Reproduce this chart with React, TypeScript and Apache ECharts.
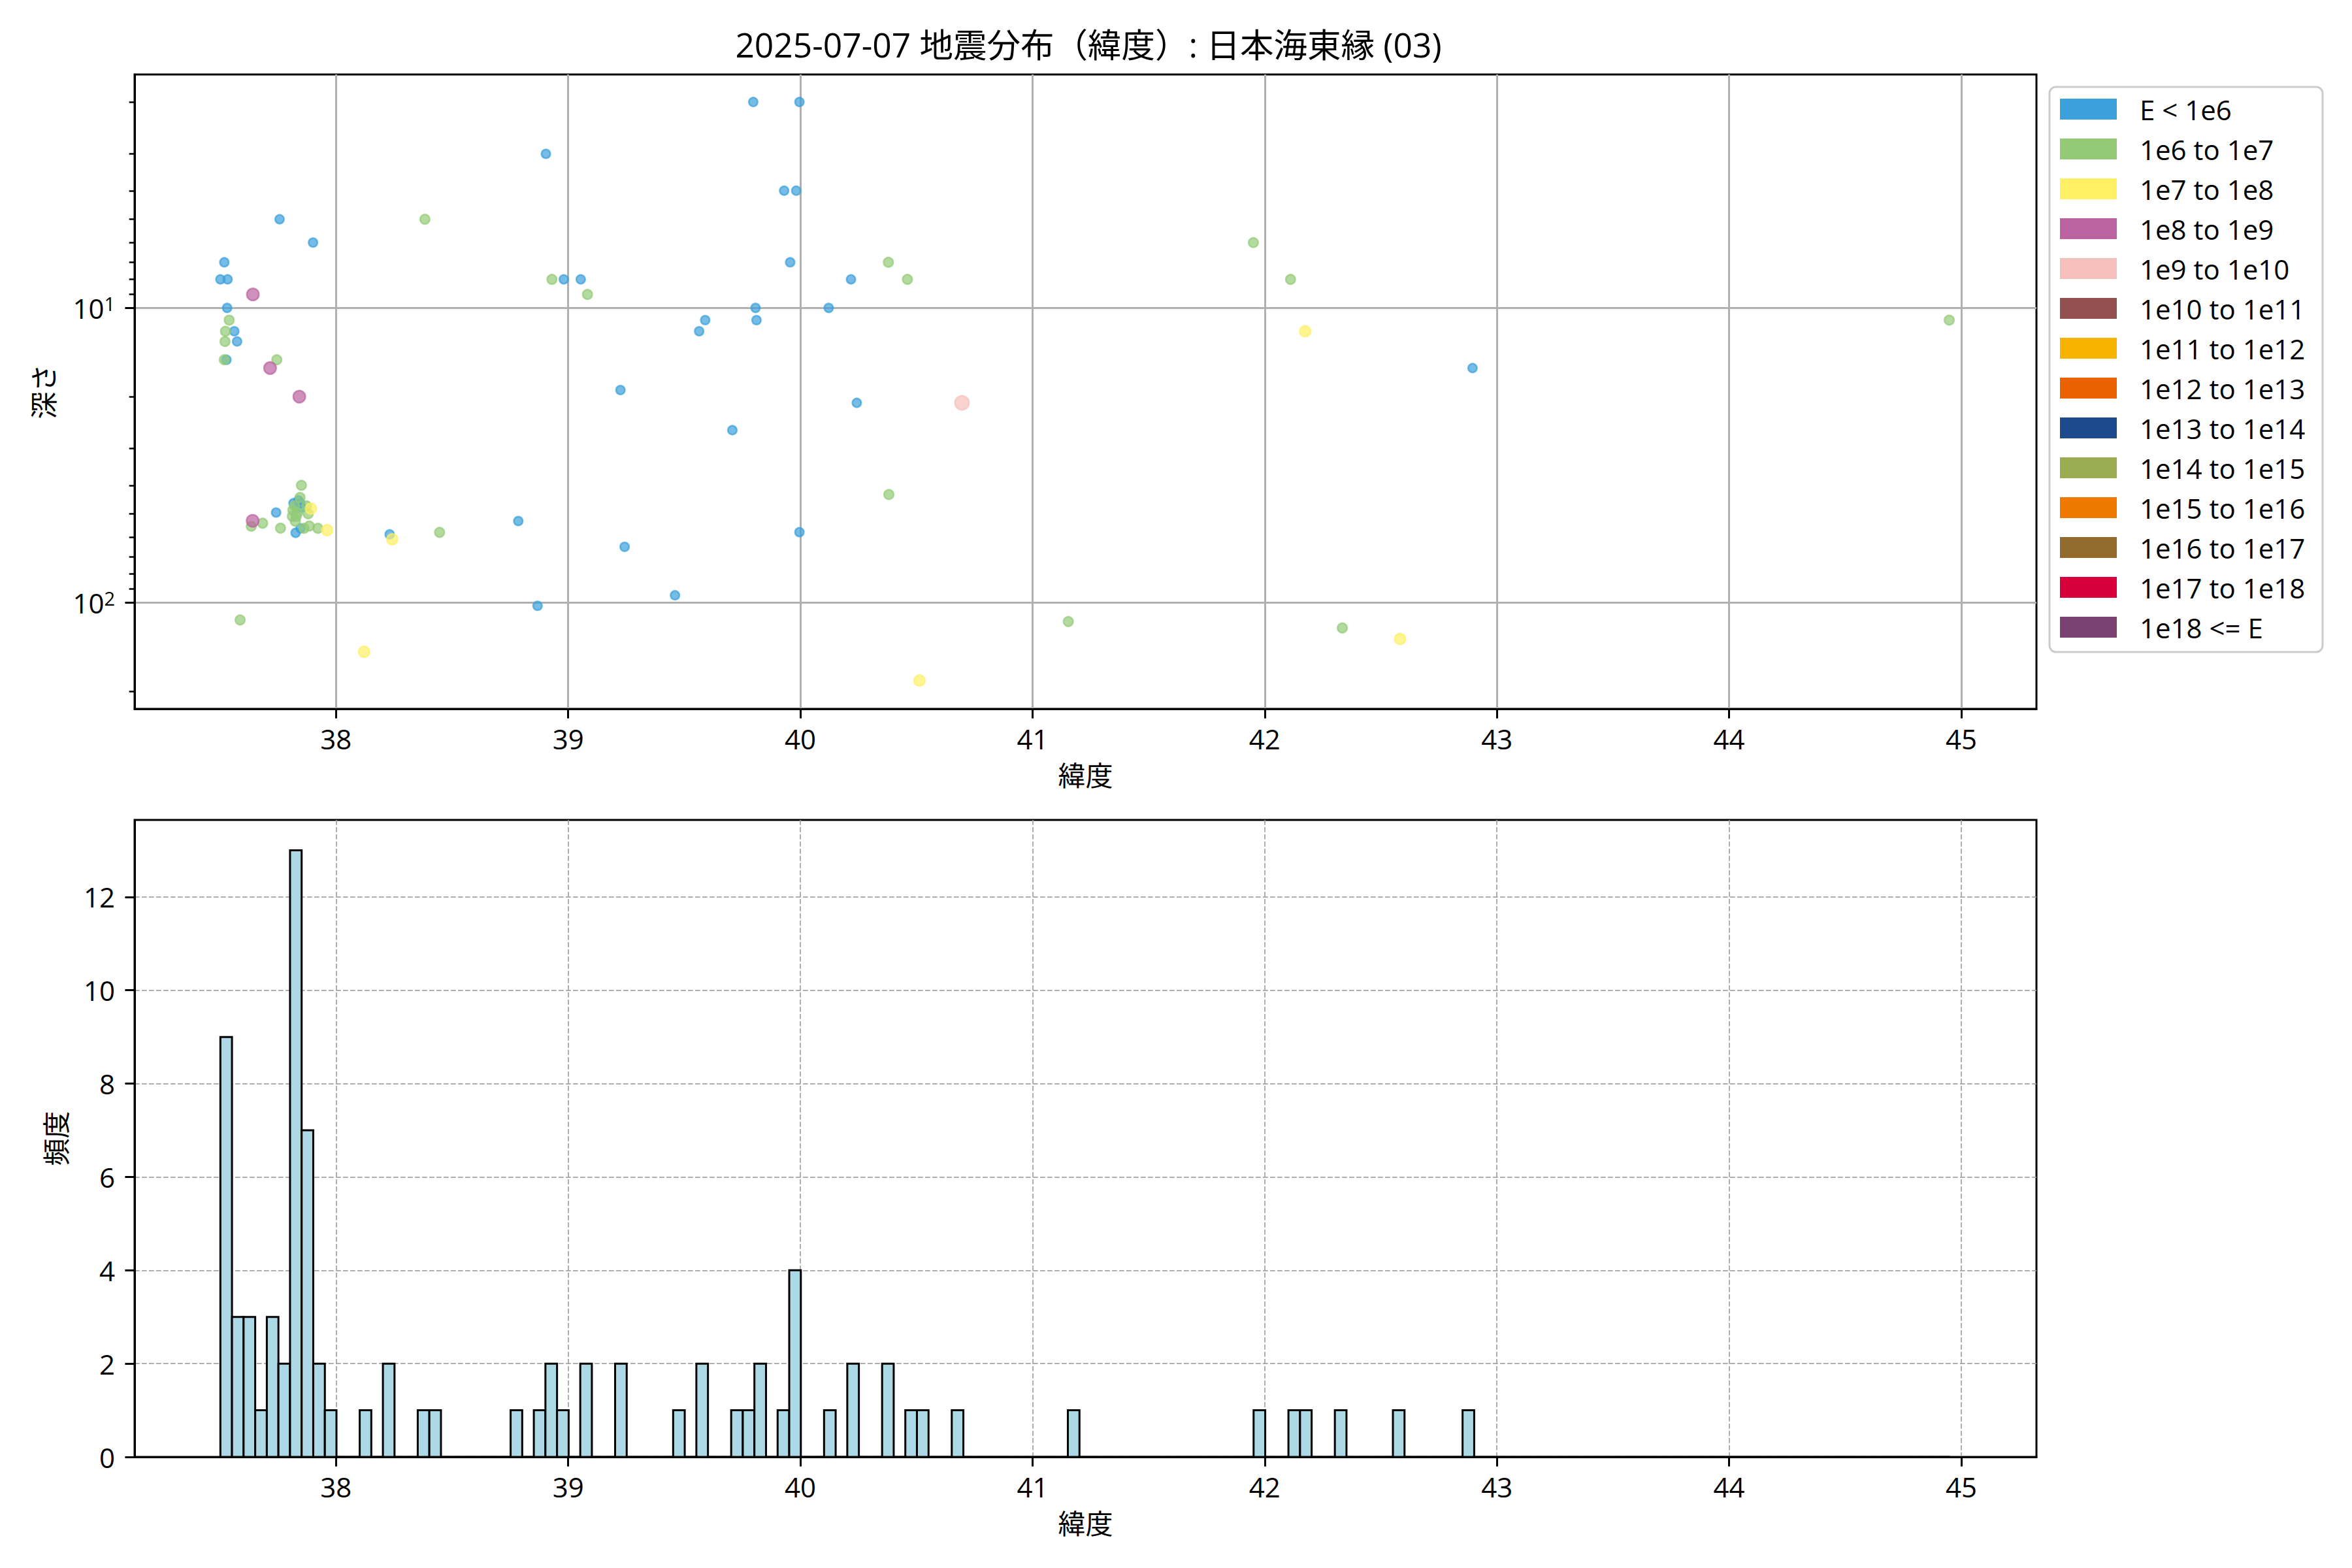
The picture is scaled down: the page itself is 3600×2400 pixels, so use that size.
import React, { useEffect, useRef } from 'react';
import * as echarts from 'echarts';

const FONT = '"Open Sans", "Noto Sans CJK JP", sans-serif';
const TITLE = '2025-07-07 地震分布（緯度）: 日本海東縁 (03)';

const energyClasses = [
  'E < 1e6', '1e6 to 1e7', '1e7 to 1e8', '1e8 to 1e9', '1e9 to 1e10', '1e10 to 1e11',
  '1e11 to 1e12', '1e12 to 1e13', '1e13 to 1e14', '1e14 to 1e15', '1e15 to 1e16',
  '1e16 to 1e17', '1e17 to 1e18', '1e18 <= E',
];
const classColors = [
  '#3ba0db', '#93ca76', '#fff064', '#bb62a0', '#f5c0bc', '#94504e', '#f6b400',
  '#ea6100', '#1d498d', '#9bac50', '#ef7800', '#936b2c', '#d7003a', '#7a4070',
];
const classSizes = [13.5, 14.5, 16.5, 18.5, 21.5, 23, 25, 27, 29, 31, 33, 35, 37, 39];

// E < 1e6
const latE6 = [39.797, 39.996, 38.904, 39.930, 39.982, 37.757, 37.901, 37.519, 39.956, 37.502,
  37.533, 38.981, 39.054, 40.218, 37.531, 39.807, 40.122, 39.811, 39.590, 37.562,
  39.564, 37.574, 37.528, 42.895, 39.225, 40.243, 39.707, 37.742, 37.817, 37.826,
  37.846, 37.838, 37.847, 37.852, 38.231, 38.785, 39.996, 39.243, 39.460, 38.868];
const depthE6 = [2.0, 2.0, 3.0, 4.0, 4.0, 5.0, 6.0, 7.0, 7.0, 8.0,
  8.0, 8.0, 8.0, 8.0, 10.0, 10.0, 10.0, 11.0, 11.0, 12.0,
  12.0, 13.0, 15.0, 16.0, 19.0, 21.0, 26.0, 49.5, 46, 58,
  46, 45, 56, 47.6, 58.7, 52.9, 57.7, 64.7, 94.5, 102.6];
// 1e6 to 1e7
const latE7 = [38.383, 38.930, 39.083, 37.540, 37.524, 37.522, 37.519, 37.745, 41.951, 42.111,
  40.379, 40.461, 44.948, 40.381, 41.154, 42.334, 37.587, 37.635, 37.684, 37.761,
  37.851, 37.873, 37.880, 37.814, 37.812, 37.829, 37.845, 37.822, 37.835, 37.825,
  37.862, 37.885, 37.922, 38.446];
const depthE7 = [5.0, 8.0, 9.0, 11.0, 12.0, 13.0, 15.0, 15.0, 6.0, 8.0,
  7.0, 8.0, 11.0, 43.0, 116, 122, 114.6, 55.1, 53.8, 55.9,
  40, 47, 50, 48.6, 51, 51, 44, 47, 49.5, 53,
  56, 55, 56, 57.8];
// 1e7 to 1e8
const latE8 = [42.174, 37.892, 37.962, 38.242, 38.121, 42.583, 40.513];
const depthE8 = [12.0, 48, 56.8, 61.0, 147, 133, 184];
// 1e8 to 1e9
const latE9 = [37.642, 37.716, 37.842, 37.641];
const depthE9 = [9.0, 16.0, 20.0, 52.8];
// 1e9 to 1e10
const latE10 = [40.696];
const depthE10 = [21.0];

const classLats = [latE6, latE7, latE8, latE9, latE10, [], [], [], [], [], [], [], [], []];
const classDepths = [depthE6, depthE7, depthE8, depthE9, depthE10, [], [], [], [], [], [], [], [], []];

// histogram of latitude (bins of 0.05 deg)
const histStart = 37.502;
const histBinWidth = 0.05;
const histCounts = [
  9, 3, 3, 1, 3, 2, 13, 7, 2, 1,
  0, 0, 1, 0, 2, 0, 0, 1, 1, 0,
  0, 0, 0, 0, 0, 1, 0, 1, 2, 1,
  0, 2, 0, 0, 2, 0, 0, 0, 0, 1,
  0, 2, 0, 0, 1, 1, 2, 0, 1, 4,
  0, 0, 1, 0, 2, 0, 0, 2, 0, 1,
  1, 0, 0, 1, 0, 0, 0, 0, 0, 0,
  0, 0, 0, 1, 0, 0, 0, 0, 0, 0,
  0, 0, 0, 0, 0, 0, 0, 0, 0, 1,
  0, 0, 1, 1, 0, 0, 1, 0, 0, 0,
  0, 1, 0, 0, 0, 0, 0, 1, 0, 0,
  0, 0, 0, 0, 0, 0, 0, 0, 0, 0,
  0, 0, 0, 0, 0, 0, 0, 0, 0, 0,
  0, 0, 0, 0, 0, 0, 0, 0, 0, 0,
  0, 0, 0, 0, 0, 0, 0, 0, 0,
];

const latTicks = [38, 39, 40, 41, 42, 43, 44, 45];
const depthMajorTicks = [10, 100];
const depthMinorTicks = [2, 3, 4, 5, 6, 7, 8, 9, 20, 30, 40, 50, 60, 70, 80, 90, 200];
const countTicks = [0, 2, 4, 6, 8, 10, 12];

const LAT_MIN = 37.1325;
const LAT_MAX = 45.3236;
const DEPTH_MIN = 1.613;
const DEPTH_MAX = 229.6;
const COUNT_MAX = 13.65;

const labelStyle = { fontSize: 42, color: '#000', fontFamily: FONT };
const nameStyle = { fontSize: 42, color: '#000', fontFamily: FONT };

function makeXAxis(gridIndex: number, dashed: boolean) {
  return {
    type: 'value', gridIndex, min: LAT_MIN, max: LAT_MAX, splitNumber: 8,
    name: '緯度', nameLocation: 'middle', nameGap: 80, nameTextStyle: nameStyle,
    axisLine: { show: true, onZero: false, lineStyle: { color: '#000', width: 3 } },
    axisTick: { show: true, customValues: latTicks, length: 14.6, lineStyle: { color: '#000', width: 3 } },
    axisLabel: { customValues: latTicks, margin: 24, ...labelStyle },
    splitLine: {
      show: true,
      lineStyle: dashed
        ? { color: 'rgba(160,160,160,0.85)', width: 2, type: [7.7, 3.3] }
        : { color: '#b0b0b0', width: 3, type: 'solid' },
    },
  };
}

export default function App() {
  const ref = useRef<HTMLDivElement>(null);
  useEffect(() => {
    document.body.style.margin = '0';
    if (!ref.current) return;
    const chart = echarts.init(ref.current, undefined, { renderer: 'svg' });

    const scatterSeries = energyClasses.map((name, i) => ({
      type: 'scatter', name, xAxisIndex: 0, yAxisIndex: 0,
      data: classLats[i].map((lat, j) => [lat, classDepths[i][j]]),
      symbolSize: classSizes[i],
      itemStyle: { color: classColors[i], opacity: 0.7, borderColor: classColors[i], borderWidth: 2.5 },
      emphasis: { disabled: true },
    }));

    const histData = histCounts.map((c, i) => [
      histStart + i * histBinWidth, histStart + (i + 1) * histBinWidth, c,
    ]);

    const option: any = {
      animation: false,
      backgroundColor: '#fff',
      textStyle: { fontFamily: FONT },
      title: {
        text: TITLE, left: 1661, top: 37, textAlign: 'center',
        textStyle: { fontSize: 51.5, fontWeight: 'normal', color: '#000', fontFamily: FONT },
      },
      legend: {
        orient: 'vertical', left: 3137, top: 133, icon: 'rect',
        itemWidth: 87, itemHeight: 32, itemGap: 19,
        padding: [13, 18, 17, 16],
        borderColor: '#cccccc', borderWidth: 3, borderRadius: 10, backgroundColor: '#fff',
        textStyle: { fontSize: 42, color: '#000', lineHeight: 42, padding: [0, 0, 0, 30], width: 262, fontFamily: FONT },
        itemStyle: { opacity: 1, borderWidth: 0 },
        selectedMode: false,
        data: energyClasses,
      },
      grid: [
        { left: 206, top: 114, width: 2911, height: 971, show: true, borderColor: '#000', borderWidth: 3, backgroundColor: 'transparent' },
        { left: 206, top: 1255, width: 2911, height: 975, show: true, borderColor: '#000', borderWidth: 3, backgroundColor: 'transparent' },
      ],
      xAxis: [makeXAxis(0, false), makeXAxis(1, true)],
      yAxis: [
        {
          type: 'log', logBase: 10, gridIndex: 0, min: DEPTH_MIN, max: DEPTH_MAX, inverse: true,
          name: '深さ', nameLocation: 'middle', nameGap: 119, nameTextStyle: nameStyle,
          position: 'left',
          axisLine: { show: true, onZero: false, lineStyle: { color: '#000', width: 3 } },
          axisTick: { show: true, customValues: depthMajorTicks, length: 14.6, lineStyle: { color: '#000', width: 3 } },
          axisLabel: {
            customValues: depthMajorTicks, margin: 30, ...labelStyle,
            formatter: (v: number) => '10{sup|' + Math.round(Math.log10(v)) + '}',
            rich: { sup: { fontSize: 29, verticalAlign: 'top', lineHeight: 42, color: '#000', fontFamily: FONT, padding: [0, 0, 14, 0] } },
          },
          splitLine: { show: true, lineStyle: { color: '#b0b0b0', width: 3 } },
        },
        {
          type: 'log', logBase: 10, gridIndex: 0, min: DEPTH_MIN, max: DEPTH_MAX, inverse: true,
          position: 'left',
          axisLine: { show: false },
          axisTick: { show: true, customValues: depthMinorTicks, length: 8.3, lineStyle: { color: '#000', width: 2.5 } },
          axisLabel: { show: false },
          splitLine: { show: false },
        },
        {
          type: 'value', gridIndex: 1, min: 0, max: COUNT_MAX, interval: 2,
          name: '頻度', nameLocation: 'middle', nameGap: 100, nameTextStyle: nameStyle,
          axisLine: { show: true, onZero: false, lineStyle: { color: '#000', width: 3 } },
          axisTick: { show: true, customValues: countTicks, length: 14.6, lineStyle: { color: '#000', width: 3 } },
          axisLabel: { customValues: countTicks, margin: 30, ...labelStyle },
          splitLine: { show: true, lineStyle: { color: 'rgba(160,160,160,0.85)', width: 2, type: [7.7, 3.3] } },
        },
      ],
      series: [
        ...scatterSeries,
        {
          type: 'custom', name: 'hist', xAxisIndex: 1, yAxisIndex: 2,
          data: histData,
          encode: { x: [0, 1], y: 2 },
          renderItem: (_params: any, api: any) => {
            const x0 = api.value(0);
            const x1 = api.value(1);
            const c = api.value(2);
            const p0 = api.coord([x0, c]);
            const p1 = api.coord([x1, 0]);
            if (!c) {
              return {
                type: 'line',
                shape: { x1: p0[0], y1: p1[1], x2: p1[0], y2: p1[1] },
                style: { stroke: '#000', lineWidth: 3 },
              };
            }
            return {
              type: 'rect',
              shape: { x: p0[0], y: p0[1], width: p1[0] - p0[0], height: p1[1] - p0[1] },
              style: { fill: '#add8e6', stroke: '#000', lineWidth: 3 },
            };
          },
        },
      ],
    };
    chart.setOption(option);
    return () => chart.dispose();
  }, []);
  return <div ref={ref} style={{ width: 3600, height: 2400 }} />;
}
